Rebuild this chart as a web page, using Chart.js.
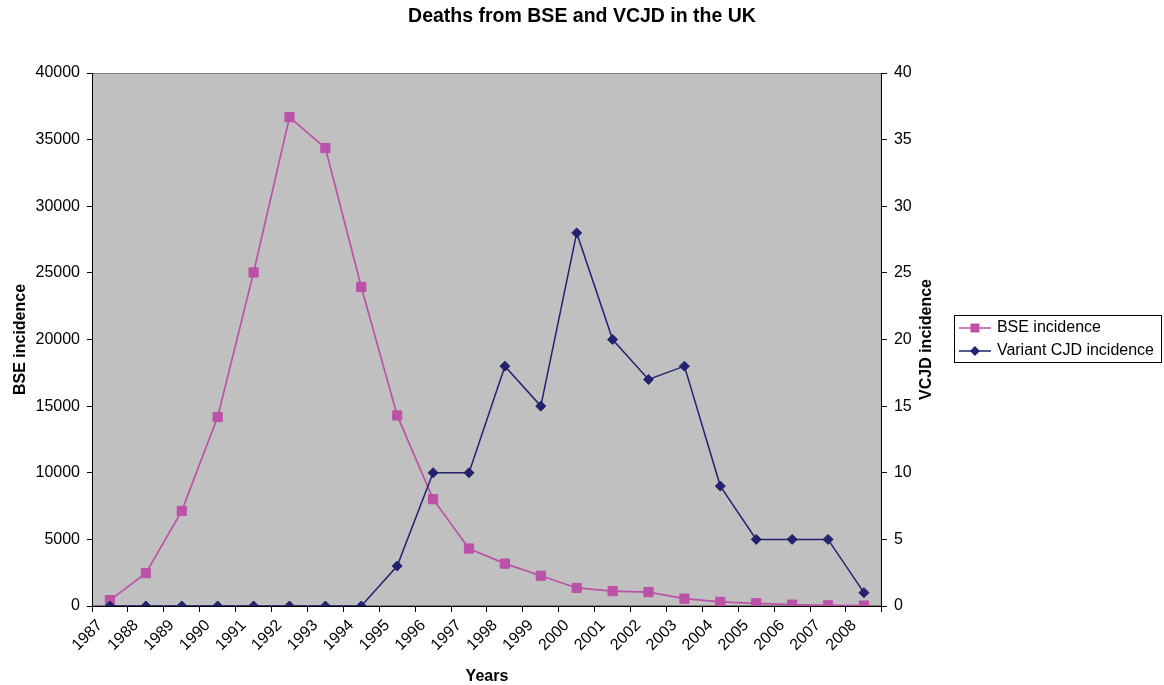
<!DOCTYPE html>
<html>
<head>
<meta charset="utf-8">
<script src="https://cdn.jsdelivr.net/npm/chart.js@4/dist/chart.umd.min.js"></script>
<style>
  html, body { margin: 0; padding: 0; background: #ffffff; }
  #wrap { width: 1164px; height: 685px; }
</style>
</head>
<body>
<div id="wrap"><canvas id="c" width="1164" height="685"></canvas></div>
<script>
// ---- data ----
const years = ['1987','1988','1989','1990','1991','1992','1993','1994','1995','1996','1997',
               '1998','1999','2000','2001','2002','2003','2004','2005','2006','2007','2008'];
const bseIncidence = [442, 2469, 7137, 14181, 25032, 36682, 34370, 23945, 14302, 8016, 4312,
                      3179, 2274, 1355, 1113, 1044, 549, 309, 203, 104, 53, 33];
const vcjdIncidence = [0, 0, 0, 0, 0, 0, 0, 0, 3, 10, 10, 18, 15, 28, 20, 17, 18, 9, 5, 5, 5, 1];
const seriesNames = ['BSE incidence', 'Variant CJD incidence'];
const chartTitle = 'Deaths from BSE and VCJD in the UK';
const xTitle = 'Years';
const yLeftTitle = 'BSE incidence';
const yRightTitle = 'VCJD incidence';

// ---- styles ----
const BSE_COLOR = '#BB52A8';
const VCJD_COLOR = '#22226E';
const FONT = "'Liberation Sans', Arial, sans-serif";

function legendImage(color, shape) {
  const cv = document.createElement('canvas');
  cv.width = 32; cv.height = 12;
  const g = cv.getContext('2d');
  g.strokeStyle = color; g.lineWidth = 1.5;
  g.beginPath(); g.moveTo(0, 6); g.lineTo(32, 6); g.stroke();
  g.fillStyle = color;
  if (shape === 'square') {
    g.fillRect(11.5, 1.5, 9, 9);
  } else {
    g.beginPath(); g.moveTo(16, 1); g.lineTo(21, 6); g.lineTo(16, 11); g.lineTo(11, 6); g.closePath(); g.fill();
  }
  return cv;
}
const legendImgs = [legendImage(BSE_COLOR, 'square'), legendImage(VCJD_COLOR, 'diamond')];

const plotBg = {
  id: 'plotBg',
  beforeDraw(chart) {
    const {ctx, chartArea: a} = chart;
    ctx.save();
    ctx.fillStyle = '#C0C0C0';
    ctx.fillRect(a.left, a.top, a.right - a.left, a.bottom - a.top);
    ctx.strokeStyle = '#808080';
    ctx.lineWidth = 1;
    ctx.strokeRect(a.left + 0.5, a.top + 0.5, a.right - a.left - 1, a.bottom - a.top - 1);
    ctx.restore();
  },
  afterDraw(chart) {
    const {ctx, chartArea: a} = chart;
    // right axis title (reads bottom-to-top as in the reference)
    const y1 = chart.scales.y1;
    ctx.save();
    ctx.fillStyle = '#000';
    ctx.font = 'bold 16px ' + FONT;
    ctx.textAlign = 'center';
    ctx.textBaseline = 'middle';
    ctx.translate(y1.right - 27, (a.top + a.bottom) / 2);
    ctx.rotate(-Math.PI / 2);
    ctx.fillText(yRightTitle, 0, 0);
    ctx.restore();
    // legend frame
    const hb = chart.legend.legendHitBoxes;
    if (hb && hb.length) {
      const l = chart.legend.left;
      const t = hb[0].top - 5;
      const last = hb[hb.length - 1];
      const b = last.top + last.height + 3;
      let r = 0;
      hb.forEach(h => { r = Math.max(r, h.left + h.width); });
      r += 7;
      ctx.save();
      ctx.strokeStyle = '#000';
      ctx.lineWidth = 1;
      ctx.strokeRect(Math.round(l) + 0.5, Math.round(t) + 0.5, Math.round(r - l), Math.round(b - t));
      ctx.restore();
    }
  }
};

const plainNumber = v => String(v);

new Chart(document.getElementById('c'), {
  type: 'line',
  data: {
    labels: years,
    datasets: [
      {
        label: seriesNames[0], data: bseIncidence, yAxisID: 'y', order: 1,
        borderColor: BSE_COLOR, backgroundColor: BSE_COLOR, borderWidth: 1.7,
        pointStyle: 'rect', pointRadius: 6.5, pointBorderWidth: 1, pointHoverRadius: 6.5,
        tension: 0, fill: false
      },
      {
        label: seriesNames[1], data: vcjdIncidence, yAxisID: 'y1', order: 0,
        borderColor: VCJD_COLOR, backgroundColor: VCJD_COLOR, borderWidth: 1.5,
        pointStyle: 'rectRot', pointRadius: 5, pointBorderWidth: 1, pointHoverRadius: 5,
        tension: 0, fill: false
      }
    ]
  },
  options: {
    responsive: false,
    animation: false,
    devicePixelRatio: 1,
    layout: { padding: { left: 0, right: 0, top: 0, bottom: 0 } },
    plugins: {
      title: {
        display: true, text: chartTitle, color: '#000',
        font: { family: FONT, size: 19.5, weight: 'bold' },
        padding: { top: 5, bottom: 44.6 }
      },
      legend: {
        display: true, position: 'right', align: 'center', fullSize: false, maxWidth: 230,
        labels: {
          color: '#000', font: { family: FONT, size: 16 },
          usePointStyle: true, pointStyleWidth: 28, padding: 7,
          generateLabels(chart) {
            const items = Chart.defaults.plugins.legend.labels.generateLabels(chart);
            items.forEach(it => { it.pointStyle = legendImgs[it.datasetIndex]; it.lineWidth = 0; });
            return items;
          },
          sort: (a, b) => a.datasetIndex - b.datasetIndex
        }
      },
      tooltip: { enabled: false }
    },
    scales: {
      x: {
        type: 'category', offset: true,
        grid: { offset: true, drawOnChartArea: false, drawTicks: true, tickLength: 6, color: '#000' },
        border: { display: true, color: '#000', width: 1 },
        ticks: { color: '#000', font: { family: FONT, size: 16 }, minRotation: 45, maxRotation: 45,
                 autoSkip: false, padding: 4, labelOffset: -10 },
        title: { display: true, text: xTitle, color: '#000', font: { family: FONT, size: 16, weight: 'bold' },
                 padding: { top: 0, bottom: -1.5 } },
        afterFit(s) { s.height = 79; }
      },
      y: {
        position: 'left', min: 0, max: 40000,
        grid: { drawOnChartArea: false, drawTicks: true, tickLength: 5, color: '#000' },
        border: { display: true, color: '#000', width: 1 },
        ticks: { stepSize: 5000, color: '#000', font: { family: FONT, size: 16 }, padding: 7, callback: plainNumber },
        title: { display: true, text: yLeftTitle, color: '#000', font: { family: FONT, size: 16, weight: 'bold' },
                 padding: { top: 11.4, bottom: 0 } },
        afterFit(s) { s.width = 92; }
      },
      y1: {
        position: 'right', min: 0, max: 40,
        grid: { drawOnChartArea: false, drawTicks: true, tickLength: 5, color: '#000' },
        border: { display: true, color: '#000', width: 1 },
        ticks: { stepSize: 5, color: '#000', font: { family: FONT, size: 16 }, padding: 7, callback: plainNumber },
        title: { display: false },
        afterFit(s) { s.width = 72; }
      }
    }
  },
  plugins: [plotBg]
});
</script>
</body>
</html>
